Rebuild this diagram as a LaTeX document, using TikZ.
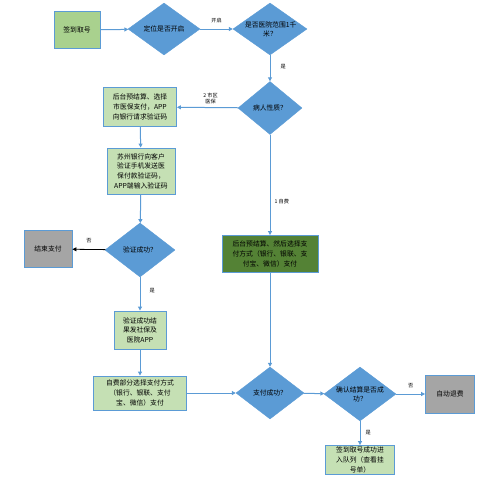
\documentclass[tikz,border=0pt]{standalone}
\usepackage{fontspec}
\setmainfont{Noto Sans CJK SC}
\usetikzlibrary{arrows.meta, shapes.geometric}
\definecolor{lineblue}{HTML}{5B9BD5}
\definecolor{diafill}{HTML}{5B9BD5}
\definecolor{boxgreen}{HTML}{C5E0B4}
\definecolor{startgreen}{HTML}{A9D18E}
\definecolor{darkgreen}{HTML}{548235}
\definecolor{endgray}{HTML}{A5A5A5}

\begin{document}
\begin{tikzpicture}[x=1pt, y=-1pt,
    box/.style={draw=lineblue, line width=0.9pt, fill=boxgreen, minimum height=#1, inner sep=1pt, align=center, font=\fontsize{6.8}{9.6}\selectfont},
    box/.default=36pt,
    dia/.style={diamond, fill=diafill, draw=diafill, inner sep=0pt, minimum width=#1, align=center, font=\fontsize{6.8}{9}\selectfont},
    dia/.default=70pt,
    arr/.style={-{Triangle[length=4pt, width=4pt]}, draw=lineblue, line width=1pt},
    lbl/.style={font=\fontsize{5.2}{6.5}\selectfont, align=center, inner sep=1pt}]
\useasboundingbox (0,0) rectangle (480,493);
% top row
\node[box=37pt, fill=startgreen, text width=44pt] (start) at (77,30) {签到取号};
\node[dia, aspect=1.38, minimum width=72pt, minimum height=52pt] (gps) at (164,29) {定位是否开启};
\node[dia, aspect=1.42, minimum width=74pt, minimum height=52pt, text width=50pt] (near) at (270,29) {是否医院范围1千\\米？};
% patient type
\node[dia, aspect=1.2, minimum width=64pt, minimum height=53pt] (kind) at (270,108) {病人性质？};
\node[box=39pt, text width=71pt] (pre) at (140,107) {后台预结算、选择\\市医保支付，APP\\向银行请求验证码};
\node[box=46pt, text width=66pt] (bank) at (141,171) {苏州银行向客户\\验证手机发送医\\保付款验证码，\\APP端输入验证码};
\node[dia, aspect=1.3, minimum width=70pt, minimum height=54pt] (ok) at (140,250) {验证成功？};
\node[box=37pt, fill=endgray, text width=46pt] (stop) at (48,249) {结束支付};
\node[box=38pt, text width=50pt] (send) at (140,330) {验证成功结\\果发社保及\\医院APP};
\node[box=34pt, text width=91pt] (self) at (140,393) {自费部分选择支付方式\\（银行、银联、支付\\宝、微信）支付};
% self pay
\node[box=37pt, fill=darkgreen, text width=94pt] (own) at (270,254) {后台预结算、然后选择支\\付方式（银行、银联、支\\付宝、微信）支付};
\node[dia, aspect=1.3, minimum width=68pt, minimum height=52pt] (paid) at (270,393) {支付成功？};
\node[dia, aspect=1.33, minimum width=72pt, minimum height=54pt, text width=48pt] (check) at (360,394) {确认结算是否成\\功？};
\node[box=38pt, fill=endgray, text width=47pt] (refund) at (450,394) {自动退费};
\node[box=29pt, text width=67pt] (queue) at (360,460) {签到取号成功进\\入队列（查看挂\\号单）};
% connectors
\draw[arr] (start) -- (gps);
\draw[arr] (gps) -- node[lbl, above=5pt] {开启} (near);
\draw[arr] (near) -- node[lbl, pos=0.45, right=9pt] {是} (kind);
\draw[arr] (kind) -- node[lbl, above=2pt, pos=0.45] {2 市区\\医保} (pre);
\draw[arr] (pre) -- (bank);
\draw[arr] (bank) -- (ok);
\draw[-{Triangle[length=4pt, width=4pt]}, line width=0.8pt] (ok) -- node[lbl, above=5pt] {否} (stop);
\draw[arr] (ok) -- node[lbl, right=8pt, pos=0.4] {是} (send);
\draw[arr] (send) -- (self);
\draw[arr] (kind) -- node[lbl, right=3pt, pos=0.67] {1 自费} (own);
\draw[arr] (own) -- (paid);
\draw[arr] (self) -- (paid);
\draw[arr] (paid) -- (check);
\draw[arr] (check) -- node[lbl, above=5pt] {否} (refund);
\draw[arr] (check) -- node[lbl, right=4pt] {是} (queue);
\end{tikzpicture}
\end{document}
